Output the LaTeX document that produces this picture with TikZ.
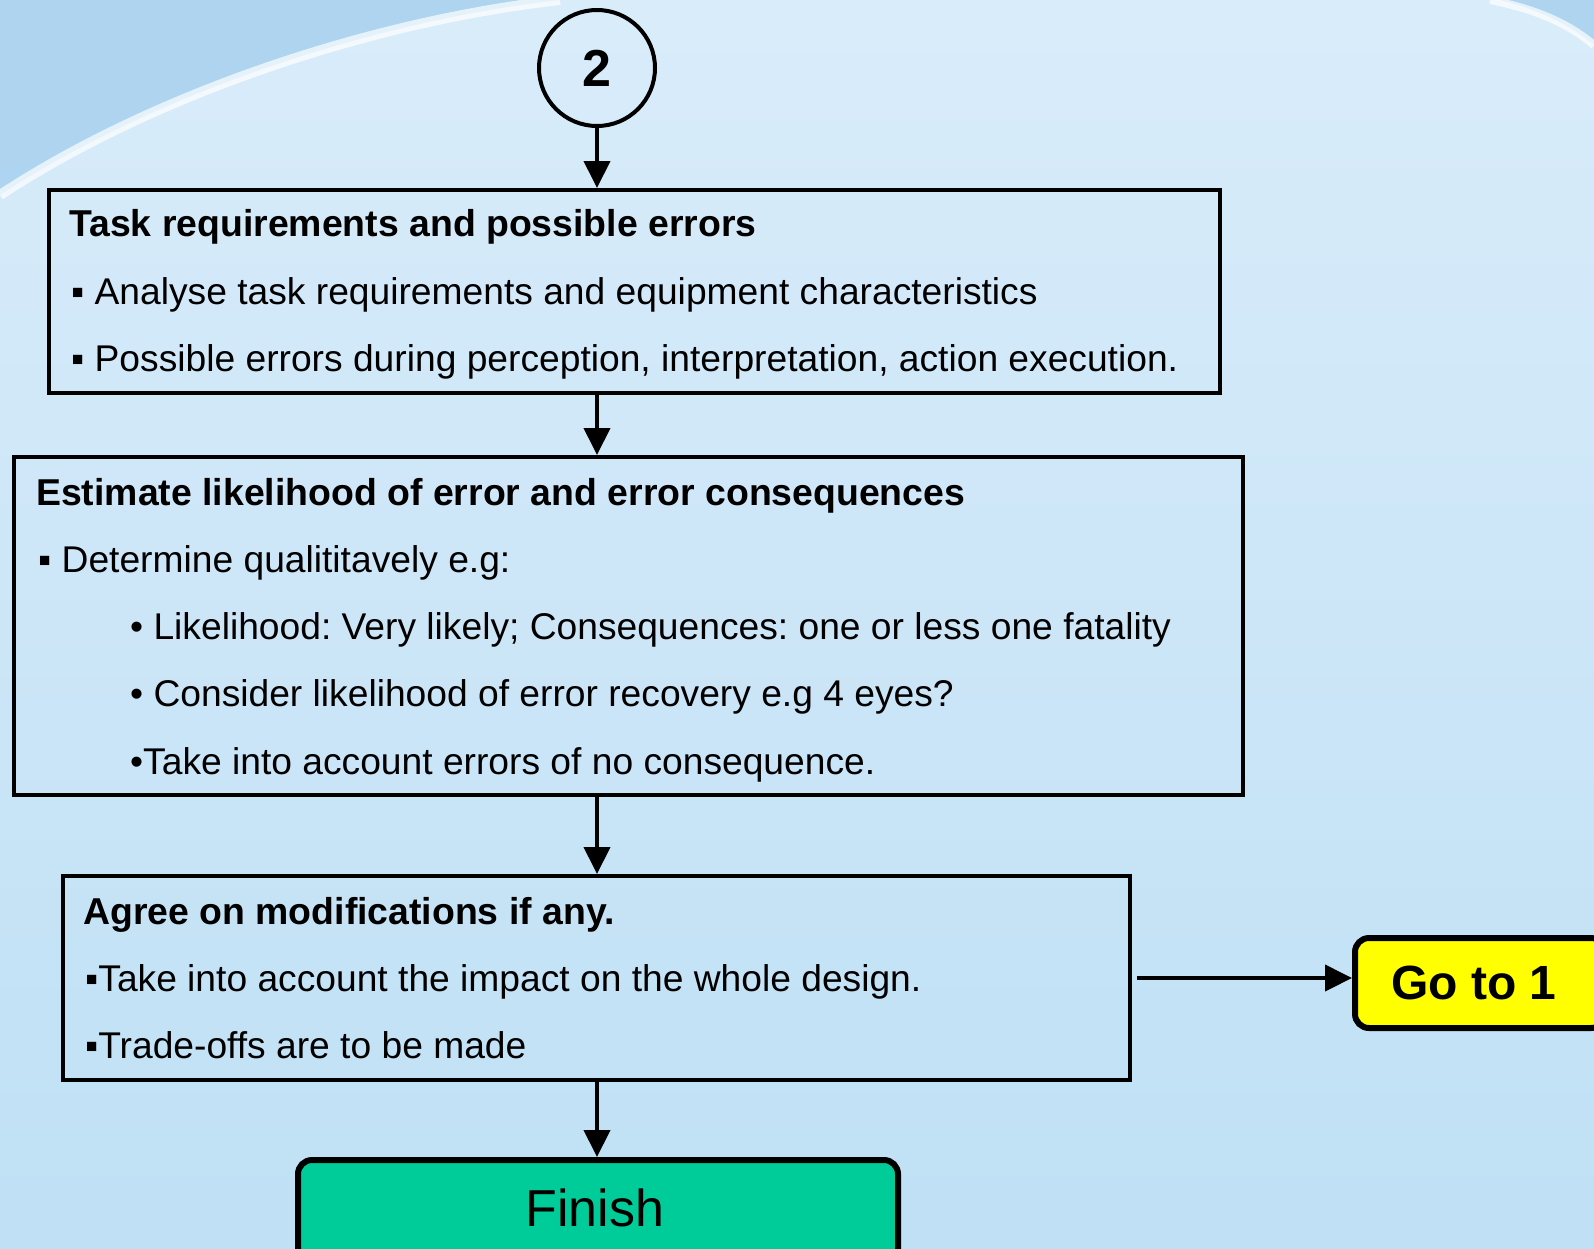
\documentclass[tikz,border=0pt]{standalone}
\usepackage{fontspec}
\setmainfont{Liberation Sans}
\usetikzlibrary{arrows.meta,calc}
\definecolor{bgTop}{HTML}{D9ECFA}
\definecolor{bgBot}{HTML}{BFE0F5}
\definecolor{bgDark}{HTML}{A4CFEE}
\definecolor{finishGreen}{HTML}{00CC99}
\definecolor{goYellow}{HTML}{FFFF00}
\frenchspacing
\begin{document}
\begin{tikzpicture}[x=1pt,y=-1pt,
  box/.style={draw=black,line width=4pt,rectangle,inner sep=0pt,anchor=north west},
  txt/.style={anchor=base west,inner sep=0pt,font=\fontsize{37.2}{44}\selectfont},
  ttl/.style={txt,font=\fontsize{37.4}{44}\selectfont\bfseries},
  conn/.style={line width=4pt,-{Triangle[length=27pt,width=26pt]}},
  rbox/.style={draw=black,line width=6pt,rounded corners=14pt,inner sep=0pt,anchor=north west}]
\useasboundingbox (0,0) rectangle (1594,1248);
% background
\shade[top color=bgTop,bottom color=bgBot] (0,0) rectangle (1594,1248);
\fill[bgDark,opacity=.8] (0,0) -- (560,0) .. controls (380,20) and (160,90) .. (0,195) -- cycle;
\draw[white,line width=10pt,opacity=.7] (560,0) .. controls (380,20) and (160,90) .. (0,195);
\fill[bgDark,opacity=.8] (1500,0) .. controls (1540,10) and (1570,25) .. (1594,45) -- (1594,0) -- cycle;
\draw[white,line width=8pt,opacity=.7] (1490,0) .. controls (1540,10) and (1570,25) .. (1594,45);
% nodes
\node[draw=black,line width=4pt,circle,minimum size=116pt,inner sep=0pt,font=\fontsize{52}{60}\selectfont\bfseries] (c2) at (597,68) {2};
\node[box,minimum width=1171pt,minimum height=203pt] (b1) at (47,188) {};
\node[ttl] (b1t) at (69,236) {Task requirements and possible errors};
\node[txt] (b1a) at (71,304) {▪ Analyse task requirements and equipment characteristics};
\node[txt] (b1b) at (71,371) {▪ Possible errors during perception, interpretation, action execution.};

\node[box,minimum width=1229pt,minimum height=338pt] (b2) at (12,455) {};
\node[ttl] (b2t) at (36,505) {Estimate likelihood of error and error consequences};
\node[txt] (b2a) at (38,572) {▪ Determine qualititavely e.g:};
\node[txt] (b2b) at (130,639) {• Likelihood: Very likely; Consequences: one or less one fatality};
\node[txt] (b2c) at (130,706) {• Consider likelihood of error recovery e.g 4 eyes?};
\node[txt] (b2d) at (130,774) {•Take into account errors of no consequence.};

\node[box,minimum width=1067pt,minimum height=204pt] (b3) at (61,874) {};
\node[ttl] (b3t) at (83,924) {Agree on modifications if any.};
\node[txt] (b3a) at (85,991) {▪Take into account the impact on the whole design.};
\node[txt] (b3b) at (85,1058) {▪Trade-offs are to be made};

\node[rbox,fill=goYellow,minimum width=250pt,minimum height=90pt] (g1) at (1352,935) {};
\node[anchor=base,inner sep=0pt,font=\fontsize{48}{56}\selectfont\bfseries] (g1t) at (1474,999) {Go to 1};

\node[rbox,fill=finishGreen,minimum width=600pt,minimum height=110pt] (fin) at (295,1157) {};
\node[anchor=base,inner sep=0pt,font=\fontsize{52}{60}\selectfont] (fint) at (595,1226) {Finish};

\coordinate (s3) at ($(b3.east)+(5,0)$);
% connectors
\draw[conn] (c2.south) -- (b1.north -| c2.south);
\draw[conn] (b1.south -| c2.south) -- (b2.north -| c2.south);
\draw[conn] (b2.south -| c2.south) -- (b3.north -| c2.south);
\draw[conn] (b3.south -| c2.south) -- (fin.north -| c2.south);
\draw[conn] (s3) -- (g1.west |- s3);
\end{tikzpicture}
\end{document}
